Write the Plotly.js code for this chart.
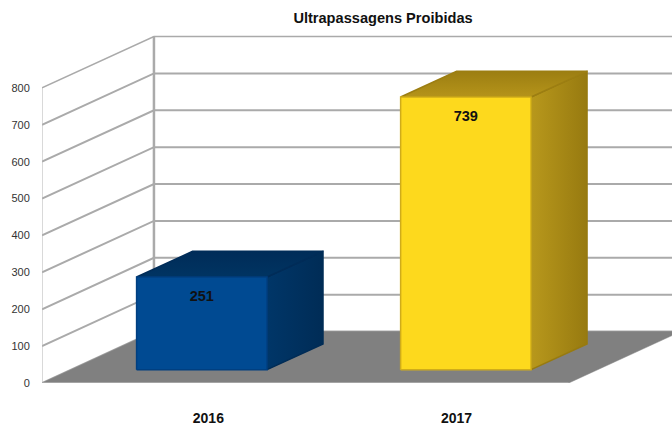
<!DOCTYPE html>
<html>
<head>
<meta charset="utf-8">
<script src="https://cdn.plot.ly/plotly-3.0.1.min.js"></script>
<style>html,body{margin:0;padding:0;background:#fff;overflow:hidden}</style>
</head>
<body>
<div id="chart" style="width:672px;height:423px"></div>
<script>
const years = ['2016', '2017'];
const values = [251, 739];
const yTicks = [0, 100, 200, 300, 400, 500, 600, 700, 800];

const chartTitle = 'Ultrapassagens Proibidas';
const FONT = '"Liberation Sans", Arial, sans-serif';
const depthX = 0.424, depthY = 139.4;          // oblique projection, in axis units
const barStart = 0.26, barEnd = 0.76;          // bar extent along the depth
const barHalf = 0.247, barCentre = 0.495;      // width and placement in category units
const floorEnd = 1.995;
const xMax = 2.386, yMax = 957;
const palettes = [
  {front: '#004a92', edge: '#003f80', top: ['#002c58', '#003462'], side: ['#003668', '#002c56']},
  {front: '#fdd91d', edge: '#cfac1a', top: ['#9c7e12', '#b5941a'], side: ['#b8981c', '#977a10']}
];

const P = (x, v, d) => [x + depthX * d, v + depthY * d];
const poly = pts => ({x: pts.map(p => p[0]), y: pts.map(p => p[1])});
const traces = [];

// walls
yTicks.forEach((v, i) => {
  const a = P(0, v, 0), b = P(0, v, 1), c = P(xMax, v, 1);
  traces.push({x: [a[0], b[0], c[0]], y: [a[1], b[1], c[1]], mode: 'lines',
    line: {color: '#aaaaaa', width: i === yTicks.length - 1 ? 1.5 : 2}, hoverinfo: 'skip'});
});
const maxV = yTicks[yTicks.length - 1];
traces.push({...poly([P(0, 0, 0), P(0, maxV, 0)]), mode: 'lines', line: {color: '#b4b4b4', width: 1}, hoverinfo: 'skip'});
traces.push({...poly([P(0, 0, 1), P(0, maxV, 1)]), mode: 'lines', line: {color: '#aaaaaa', width: 2.5}, hoverinfo: 'skip'});

// floor
traces.push({...poly([P(0, 0, 0), P(floorEnd, 0, 0), P(floorEnd, 0, 1), P(0, 0, 1), P(0, 0, 0)]), mode: 'lines', fill: 'toself',
  fillcolor: '#808080', line: {color: '#808080', width: 0.5}, hoverinfo: 'skip'});
traces.push({...poly([P(0, 0, 0), P(floorEnd, 0, 0)]), mode: 'lines', line: {color: '#b0b0b0', width: 1.5}, hoverinfo: 'skip'});

// bars
values.forEach((v, i) => {
  const c = i + barCentre, l = c - barHalf, r = c + barHalf, pal = palettes[i];
  const side = [P(r, 0, barStart), P(r, 0, barEnd), P(r, v, barEnd), P(r, v, barStart), P(r, 0, barStart)];
  const top = [P(l, v, barStart), P(r, v, barStart), P(r, v, barEnd), P(l, v, barEnd), P(l, v, barStart)];
  const front = [P(l, 0, barStart), P(r, 0, barStart), P(r, v, barStart), P(l, v, barStart), P(l, 0, barStart)];
  traces.push({...poly(side), mode: 'lines', fill: 'toself', hoverinfo: 'skip',
    line: {color: pal.side[1], width: 1.5},
    fillgradient: {type: 'horizontal', colorscale: [[0, pal.side[0]], [1, pal.side[1]]]}});
  traces.push({...poly(top), mode: 'lines', fill: 'toself', hoverinfo: 'skip',
    line: {color: pal.top[0], width: 1.5},
    fillgradient: {type: 'vertical', colorscale: [[0, pal.top[1]], [1, pal.top[0]]]}});
  traces.push({...poly(front), mode: 'lines', fill: 'toself', fillcolor: pal.front, hoverinfo: 'skip',
    line: {color: pal.edge, width: 1.5}});
});

// value labels
traces.push({
  x: values.map((v, i) => P(i + barCentre, v, barStart)[0]),
  y: values.map((v, i) => P(i + barCentre, v, barStart)[1] - 55),
  text: values.map(String), mode: 'text', textposition: 'middle center',
  textfont: {family: FONT, size: 14.5, color: '#111111', weight: 'bold'}, hoverinfo: 'skip'
});

const layout = {
  width: 672, height: 423, showlegend: false, paper_bgcolor: '#fff', plot_bgcolor: '#fff',
  margin: {l: 42, r: 0, t: 30, b: 39.5},
  title: {text: '<b>' + chartTitle + '</b>', x: 383 / 672, xanchor: 'center', y: 1 - 18 / 423, yanchor: 'middle',
    font: {family: FONT, size: 14.6, color: '#111111'}},
  xaxis: {range: [0, xMax], showgrid: false, zeroline: false, showline: false,
    tickmode: 'array', tickvals: [0.63, 1.57], ticktext: years.map(y => '<b>' + y + '</b>'),
    ticks: 'outside', ticklen: 22, tickcolor: 'rgba(0,0,0,0)',
    tickfont: {family: FONT, size: 14, color: '#111111'}},
  yaxis: {range: [0, yMax], showgrid: false, zeroline: false, showline: false,
    tickmode: 'array', tickvals: yTicks, ticks: 'outside', ticklen: 9, tickcolor: 'rgba(0,0,0,0)',
    tickfont: {family: FONT, size: 11, color: '#333333'}}
};
Plotly.newPlot('chart', traces, layout, {displayModeBar: false, staticPlot: true});
</script>
</body>
</html>
